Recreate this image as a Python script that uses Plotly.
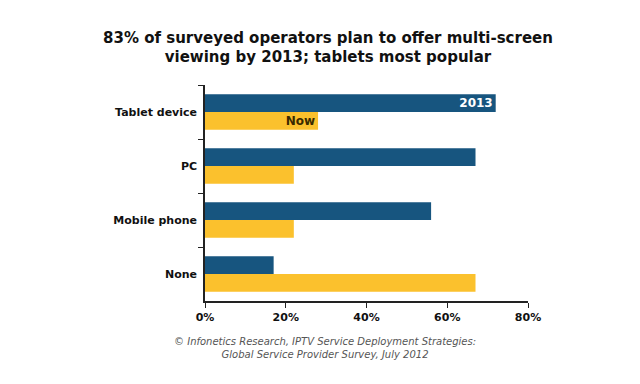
import plotly.graph_objects as go

categories = ["Tablet device", "PC", "Mobile phone", "None"]
values_2013 = [72, 67, 56, 17]
values_now = [28, 22, 22, 67]
labels_2013 = ["2013", "", "", ""]
labels_now = ["Now", "", "", ""]
x_ticks = [0, 20, 40, 60, 80]
x_tick_labels = ["0%", "20%", "40%", "60%", "80%"]

FONT = "DejaVu Sans, Liberation Sans, Arial, sans-serif"

fig = go.Figure()
fig.add_trace(go.Bar(
    y=categories, x=values_2013, orientation="h", name="2013",
    marker=dict(color="#17557f", line=dict(width=0)),
    text=labels_2013, textposition="inside", insidetextanchor="end",
    constraintext="none",
    textfont=dict(color="white", size=12, family=FONT, weight="bold"),
))
fig.add_trace(go.Bar(
    y=categories, x=values_now, orientation="h", name="Now",
    marker=dict(color="#fbc12d", line=dict(width=0)),
    text=labels_now, textposition="inside", insidetextanchor="end",
    constraintext="none",
    textfont=dict(color="#3a2a00", size=12, family=FONT, weight="bold"),
))

fig.update_layout(
    width=640, height=384,
    margin=dict(l=197, r=120, t=77, b=91),
    paper_bgcolor="white", plot_bgcolor="white",
    barmode="group", bargap=0.34, bargroupgap=0.0,
    showlegend=False,
    font=dict(family=FONT, color="#111"),
    title=dict(
        text="83% of surveyed operators plan to offer multi-screen<br>viewing by 2013; tablets most popular",
        x=0.5, xanchor="center", y=0.91, yanchor="top",
        font=dict(size=15, color="#111", family=FONT, weight="bold"),
    ),
    xaxis=dict(
        range=[0, 80], tickvals=x_ticks, ticktext=x_tick_labels,
        showgrid=False, zeroline=False, showline=True, linecolor="#222", linewidth=1.5,
        ticks="outside", ticklen=5, tickcolor="#222",
        tickfont=dict(size=11, color="#111", family=FONT, weight="bold"),
        fixedrange=True,
    ),
    yaxis=dict(
        autorange="reversed", categoryorder="array", categoryarray=categories,
        showgrid=False, zeroline=False, showline=True, linecolor="#222", linewidth=1.5,
        ticks="outside", tickson="boundaries", ticklen=5, tickcolor="#222",
        tickfont=dict(size=11, color="#111", family=FONT, weight="bold"),
        ticklabelstandoff=4,
    ),
)

fig.add_annotation(
    text="<i>© Infonetics Research, IPTV Service Deployment Strategies:<br>Global Service Provider Survey, July 2012</i>",
    xref="paper", yref="paper", x=0.37, y=-0.155, xanchor="center", yanchor="top",
    showarrow=False, font=dict(size=10, color="#555", family=FONT), align="center",
)

fig.write_html("out.html")
